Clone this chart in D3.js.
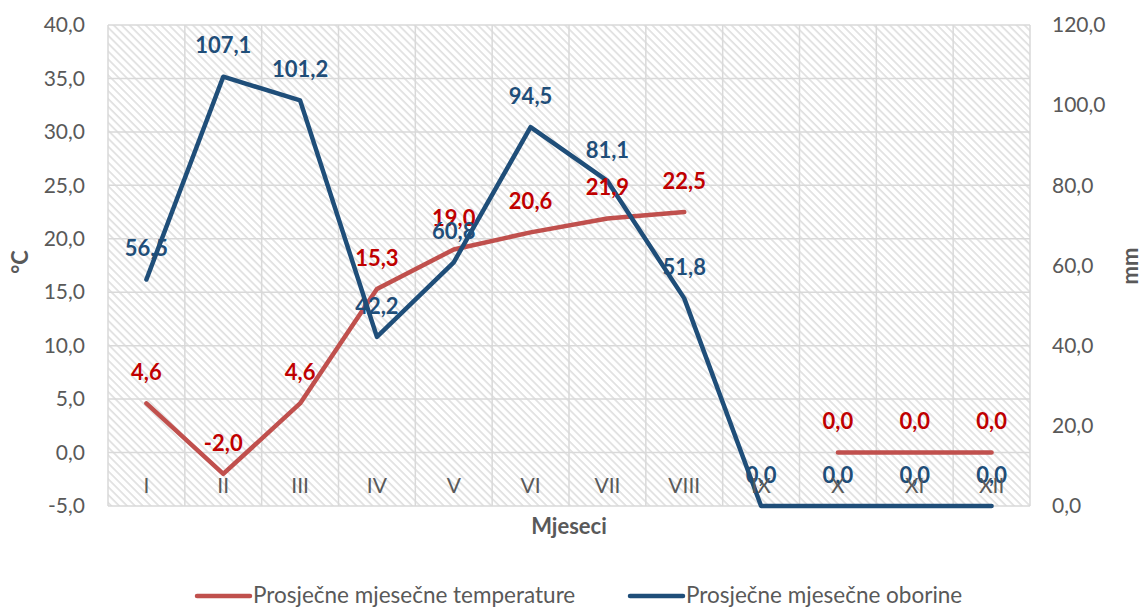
<!DOCTYPE html>
<html>
<head>
<meta charset="utf-8">
<script src="https://cdn.jsdelivr.net/npm/d3@7.9.0/dist/d3.min.js"></script>
<style>
  body { margin: 0; background: #fff; }
  svg { font-family: Lato, "Open Sans", sans-serif; }
</style>
</head>
<body>
<svg id="chart" width="1142" height="607"></svg>
<script>
const months = ["I", "II", "III", "IV", "V", "VI", "VII", "VIII", "IX", "X", "XI", "XII"];
const temperature = [4.6, -2.0, 4.6, 15.3, 19.0, 20.6, 21.9, 22.5, null, 0.0, 0.0, 0.0];
const precipitation = [56.5, 107.1, 101.2, 42.2, 60.8, 94.5, 81.1, 51.8, 0.0, 0.0, 0.0, 0.0];
const tempTicks = [-5, 0, 5, 10, 15, 20, 25, 30, 35, 40];
const rainTicks = [0, 20, 40, 60, 80, 100, 120];
const legendLabels = ["Prosječne mjesečne temperature", "Prosječne mjesečne oborine"];

const locale = d3.formatLocale({ decimal: ",", thousands: ".", grouping: [3], currency: ["", ""], minus: "-" });
const fmt = locale.format(".1f");

const plot = { left: 108, right: 1030, top: 25, bottom: 506 };
const svg = d3.select("#chart");

const x = d3.scaleBand().domain(months).range([plot.left, plot.right]).padding(0);
const cx = (m) => x(m) + x.bandwidth() / 2;
const yT = d3.scaleLinear().domain([-5, 40]).range([plot.bottom, plot.top]);
const yR = d3.scaleLinear().domain([0, 120]).range([plot.bottom, plot.top]);

// hatch background
const defs = svg.append("defs");
defs.append("pattern")
  .attr("id", "hatch")
  .attr("patternUnits", "userSpaceOnUse")
  .attr("width", 5.6)
  .attr("height", 5.6)
  .attr("patternTransform", "rotate(-45)")
  .append("line")
  .attr("x1", 1).attr("y1", 0).attr("x2", 1).attr("y2", 5.6)
  .attr("stroke", "#dedede")
  .attr("stroke-width", 1.6);

svg.append("rect")
  .attr("x", plot.left).attr("y", plot.top)
  .attr("width", plot.right - plot.left).attr("height", plot.bottom - plot.top)
  .attr("fill", "url(#hatch)");

// grid
const grid = svg.append("g").attr("stroke", "#d9d9d9").attr("stroke-width", 1.5);
tempTicks.forEach((t) => {
  grid.append("line").attr("x1", plot.left).attr("x2", plot.right).attr("y1", yT(t)).attr("y2", yT(t));
});
months.concat([null]).forEach((m) => {
  const xx = m ? x(m) : plot.right;
  grid.append("line").attr("x1", xx).attr("x2", xx).attr("y1", plot.top).attr("y2", plot.bottom);
});

// axes
const axisL = svg.append("g")
  .attr("transform", `translate(${plot.left},0)`)
  .call(d3.axisLeft(yT).tickValues(tempTicks).tickFormat(fmt).tickSize(0).tickPadding(23));
const axisR = svg.append("g")
  .attr("transform", `translate(${plot.right},0)`)
  .call(d3.axisRight(yR).tickValues(rainTicks).tickFormat(fmt).tickSize(0).tickPadding(22));
[axisL, axisR].forEach((a) => {
  a.select(".domain").remove();
  a.selectAll("text").attr("fill", "#595959").style("font-size", "21px").style("font-family", "Lato, sans-serif");
});

// lines
const lineT = d3.line()
  .defined((d) => d != null)
  .x((d, i) => cx(months[i]))
  .y((d) => yT(d));
const lineR = d3.line()
  .x((d, i) => cx(months[i]))
  .y((d) => yR(d));

svg.append("path")
  .attr("d", lineT(temperature))
  .attr("fill", "none")
  .attr("stroke", "#C0504D")
  .attr("stroke-width", 4.5)
  .attr("stroke-linejoin", "round")
  .attr("stroke-linecap", "round");

svg.append("path")
  .attr("d", lineR(precipitation))
  .attr("fill", "none")
  .attr("stroke", "#1F4E79")
  .attr("stroke-width", 4.5)
  .attr("stroke-linejoin", "round")
  .attr("stroke-linecap", "round");

// data labels
svg.append("g").selectAll("text")
  .data(temperature.map((v, i) => ({ v, m: months[i] })).filter((d) => d.v != null))
  .join("text")
  .attr("x", (d) => cx(d.m))
  .attr("y", (d) => yT(d.v) - 31)
  .attr("dy", "0.35em")
  .attr("text-anchor", "middle")
  .attr("fill", "#C00000")
  .attr("font-weight", "bold")
  .style("font-size", "22px")
  .text((d) => fmt(d.v));

svg.append("g").selectAll("text")
  .data(precipitation.map((v, i) => ({ v, m: months[i] })))
  .join("text")
  .attr("x", (d) => cx(d.m))
  .attr("y", (d) => yR(d.v) - 31)
  .attr("dy", "0.35em")
  .attr("text-anchor", "middle")
  .attr("fill", "#1F4E79")
  .attr("font-weight", "bold")
  .style("font-size", "22px")
  .text((d) => fmt(d.v));

// category labels
svg.append("g").selectAll("text")
  .data(months)
  .join("text")
  .attr("x", (d) => cx(d))
  .attr("y", 486)
  .attr("dy", "0.35em")
  .attr("text-anchor", "middle")
  .attr("fill", "#595959")
  .style("font-size", "21px")
  .text((d) => d);

// axis titles
svg.append("text")
  .attr("x", 569).attr("y", 534)
  .attr("text-anchor", "middle")
  .attr("fill", "#595959").attr("font-weight", "bold")
  .style("font-size", "22px")
  .text("Mjeseci");

svg.append("text")
  .attr("transform", "translate(28,262) rotate(-90)")
  .attr("text-anchor", "middle")
  .attr("fill", "#595959").attr("font-weight", "bold")
  .style("font-size", "22px")
  .text("°C");

svg.append("text")
  .attr("transform", "translate(1138,266) rotate(-90)")
  .attr("text-anchor", "middle")
  .attr("fill", "#595959").attr("font-weight", "bold")
  .style("font-size", "22px")
  .text("mm");

// legend
const legendColors = ["#C0504D", "#1F4E79"];
const legendX = [197, 630];
legendLabels.forEach((label, i) => {
  const g = svg.append("g").attr("transform", `translate(${legendX[i]},596)`);
  g.append("line")
    .attr("x1", 0).attr("x2", 53).attr("y1", 0).attr("y2", 0)
    .attr("stroke", legendColors[i]).attr("stroke-width", 4.5).attr("stroke-linecap", "round");
  g.append("text")
    .attr("x", 56).attr("dy", "0.33em")
    .attr("fill", "#595959")
    .style("font-size", "22.5px")
    .text(label);
});
</script>
</body>
</html>
